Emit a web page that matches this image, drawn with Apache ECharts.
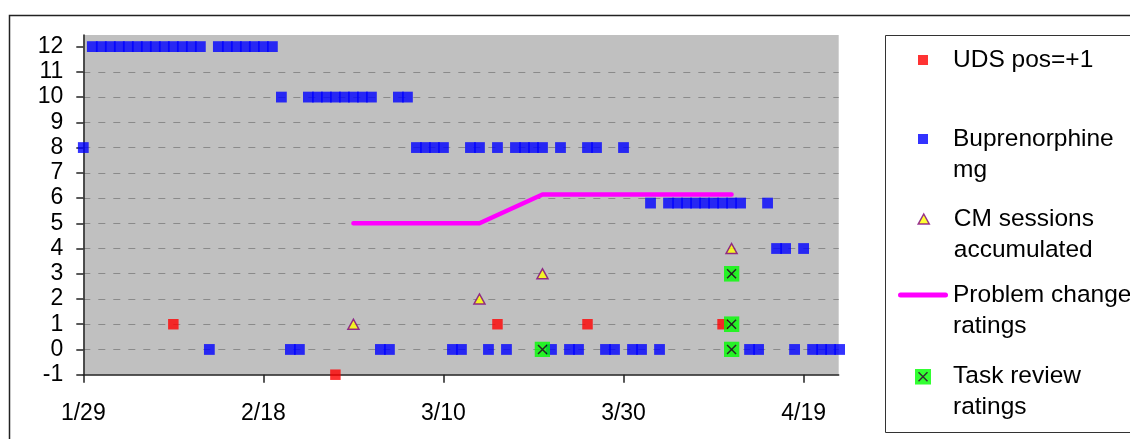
<!DOCTYPE html>
<html><head><meta charset="utf-8">
<script src="https://cdn.jsdelivr.net/npm/echarts@6.0.0/dist/echarts.min.js"></script>
<style>html,body{margin:0;padding:0;background:#fff;overflow:hidden;} #c{width:1130px;height:439px;}</style>
</head><body><div id="c"></div>
<script>
// ---- data ----
const xTickDays = [0, 20, 40, 60, 80];
const xTickLabels = ['1/29', '2/18', '3/10', '3/30', '4/19'];
const yTickValues = [-1, 0, 1, 2, 3, 4, 5, 6, 7, 8, 9, 10, 11, 12];

// Buprenorphine mg, one value per day starting 1/29 (day 0)
const bupMg = [
  8,
  12, 12, 12, 12, 12, 12, 12, 12, 12, 12, 12, 12, 12,
  0,
  12, 12, 12, 12, 12, 12, 12,
  10,
  0, 0,
  10, 10, 10, 10, 10, 10, 10, 10,
  0, 0,
  10, 10,
  8, 8, 8, 8,
  0, 0,
  8, 8,
  0,
  8,
  0,
  8, 8, 8, 8,
  0,
  8,
  0, 0,
  8, 8,
  0, 0,
  8,
  0, 0,
  5.8,
  0,
  5.8, 5.8, 5.8, 5.8, 5.8, 5.8, 5.8, 5.8, 5.8,
  0, 0,
  5.8,
  4, 4,
  0,
  4,
  0, 0, 0, 0
];
const udsDays = [10, 28, 46, 56, 71];
const udsValues = [1, -1, 1, 1, 1];
const cmDays = [30, 44, 51, 72];
const cmValues = [1, 2, 3, 4];
const problemDays = [30, 44, 51, 72];
const problemValues = [5, 5, 6.14, 6.14];
const taskDays = [51, 72, 72, 72];
const taskValues = [0, 0, 1, 3];

const seriesNames = ['UDS pos=+1', 'Buprenorphine mg', 'CM sessions accumulated', 'Problem change ratings', 'Task review ratings'];
const legendLabels = ['UDS pos=+1', 'Buprenorphine\nmg', 'CM sessions\naccumulated', 'Problem change\nratings', 'Task review\nratings'];

// ---- build ----
const pairs = (xs, ys) => xs.map((x, i) => [x, ys[i]]);
const bupData = bupMg.map((v, d) => [d, v]);

const FONT = 'Liberation Sans, Arial, sans-serif';
const svgX = "<svg xmlns='http://www.w3.org/2000/svg' width='16' height='16' viewBox='0 0 16 16'>" +
  "<rect width='16' height='16' fill='#00ff00'/>" +
  "<path d='M3.5 3.5L12.5 12.5M12.5 3.5L3.5 12.5' stroke='#000' stroke-width='1.5' fill='none'/></svg>";
const taskSymbol = 'image://data:image/svg+xml;charset=utf-8,' + encodeURIComponent(svgX);
const lineIcon = 'path://M2.5,0L47.5,0A2.5,2.5,0,0,1,47.5,5L2.5,5A2.5,2.5,0,0,1,2.5,0Z';

const legendTops = [44.5, 92.5, 172.5, 248.5, 330.2];
const legendIconW = [10, 10, 11, 50, 16];
const legendIconH = [10, 10, 10, 5, 16];
const TEXT_X = 953, ICON_CX = 923;
const legends = seriesNames.map((n, i) => {
  const w = legendIconW[i];
  const left = ICON_CX - w / 2;
  const pad = TEXT_X - (left + w + 5);
  const lg = {
    orient: 'vertical', left: left, top: legendTops[i], padding: 0, itemGap: 0,
    itemWidth: w, itemHeight: legendIconH[i], selectedMode: false,
    data: [i === 3 ? { name: n, icon: lineIcon, itemStyle: { color: '#ff00ff' } } : n],
    formatter: () => (legendLabels[i].indexOf('\n') >= 0 ? '\n' + legendLabels[i] : legendLabels[i]),
    textStyle: { fontFamily: FONT, fontSize: 24.5, lineHeight: 31, color: '#000', padding: [0, 0, 0, Math.max(0, pad)] }
  };
  if (i === 2) lg.itemStyle = { borderWidth: 1.5 };
  return lg;
});

const chart = echarts.init(document.getElementById('c'), null, { renderer: 'canvas' });
chart.setOption({
  animation: false,
  backgroundColor: '#ffffff',
  textStyle: { fontFamily: FONT },
  grid: { left: 83.3, top: 35, width: 755.4, height: 339.7, show: true, backgroundColor: '#c0c0c0', borderWidth: 0 },
  legend: legends,
  xAxis: {
    type: 'value', min: 0, max: 83.9, interval: 20,
    axisLine: { onZero: false, lineStyle: { color: '#222', width: 1.5 } },
    axisTick: { show: true, length: 8, customValues: xTickDays, lineStyle: { color: '#222', width: 1.5 } },
    axisLabel: {
      customValues: xTickDays, fontSize: 23, margin: 27, color: '#000', fontFamily: FONT,
      formatter: v => { const k = xTickDays.indexOf(v); return k >= 0 ? xTickLabels[k] : ''; }
    },
    splitLine: { show: false }
  },
  yAxis: {
    type: 'value', min: -1, max: 12.46, interval: 1,
    axisLine: { show: true, lineStyle: { color: '#222', width: 1.5 } },
    axisTick: { show: true, length: 7, customValues: yTickValues, lineStyle: { color: '#222', width: 1.5 } },
    axisLabel: {
      customValues: yTickValues, fontSize: 23, margin: 20, color: '#000', fontFamily: FONT,
      formatter: v => (Number.isInteger(v) ? String(v) : '')
    },
    splitLine: { show: true, showMinLine: false, showMaxLine: false, lineStyle: { color: '#8a8a8a', type: [7, 8], width: 1 } }
  },
  graphic: [
    { type: 'rect', silent: true, z: 100, shape: { x: 9.5, y: 15.5, width: 1300, height: 600 }, style: { fill: 'none', stroke: '#222', lineWidth: 1.5 } },
    { type: 'rect', silent: true, z: 100, shape: { x: 885.5, y: 35.5, width: 400, height: 397 }, style: { fill: 'none', stroke: '#333', lineWidth: 1 } }
  ],
  series: [
    { name: seriesNames[0], type: 'scatter', clip: false, symbol: 'rect', symbolSize: 10.5,
      itemStyle: { color: '#ff0000' }, data: pairs(udsDays, udsValues) },
    { name: seriesNames[1], type: 'scatter', clip: false, symbol: 'rect', symbolSize: 10.8,
      itemStyle: { color: '#0000ff' }, data: bupData },
    { name: seriesNames[2], type: 'scatter', clip: false, symbol: 'triangle', symbolSize: [11, 10],
      itemStyle: { color: '#ffff00', borderColor: '#800080', borderWidth: 1.5 }, data: pairs(cmDays, cmValues) },
    { name: seriesNames[3], type: 'line', symbol: 'none', showSymbol: false, clip: false,
      lineStyle: { color: '#ff00ff', width: 4.5, cap: 'round', join: 'round' }, itemStyle: { color: '#ff00ff' },
      data: pairs(problemDays, problemValues) },
    { name: seriesNames[4], type: 'scatter', clip: false, symbol: taskSymbol, symbolSize: 16,
      itemStyle: { color: '#00ff00' }, data: pairs(taskDays, taskValues), z: 5 }
  ]
});
</script>
</body></html>
